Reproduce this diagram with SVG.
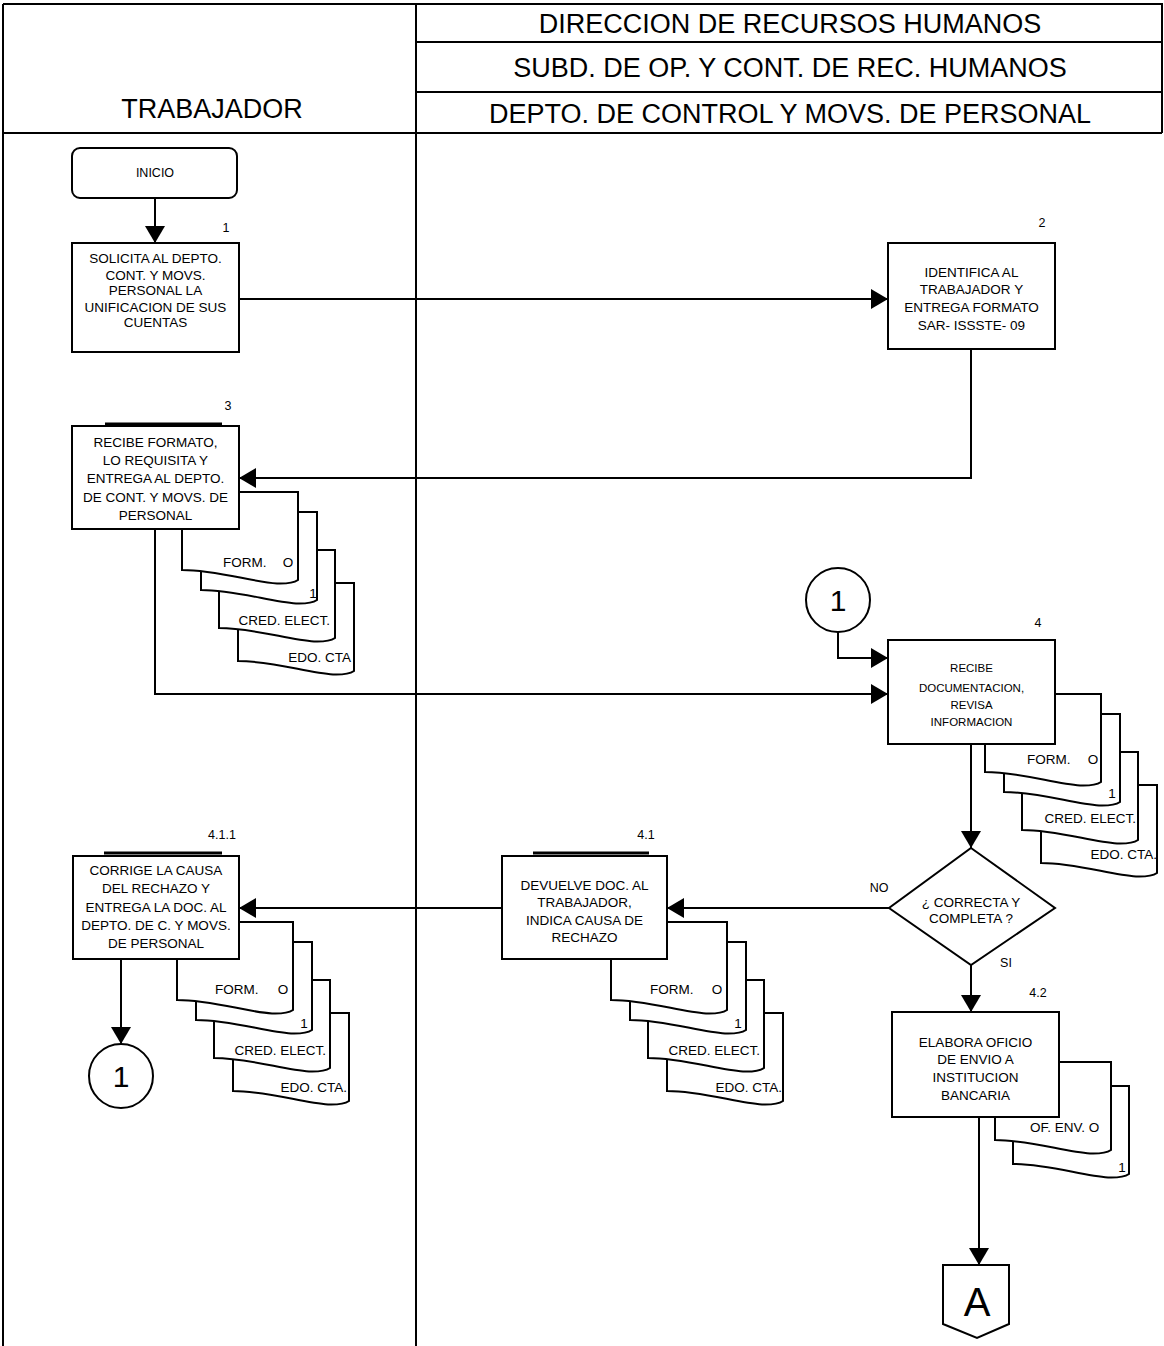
<svg xmlns="http://www.w3.org/2000/svg" xmlns:xlink="http://www.w3.org/1999/xlink" width="1164" height="1346" viewBox="0 0 1164 1346">
<style>
.box{fill:#fff;stroke:#000;stroke-width:2}
.ln{fill:none;stroke:#000;stroke-width:2}
.bar{fill:none;stroke:#000;stroke-width:3}
text{font-family:"Liberation Sans",Arial,sans-serif;fill:#000}
.t{font-size:13.5px;text-anchor:middle}
.ts{font-size:11.5px;text-anchor:middle}
.hdr{font-size:27px;text-anchor:middle}
.num{font-size:12.5px;text-anchor:middle}
.dl{font-size:13.5px}
.end{text-anchor:end}
.mid{text-anchor:middle}
.big{font-size:30px;text-anchor:middle}
</style>
<defs>
<marker id="ah" viewBox="0 0 17 20" refX="17" refY="10" markerWidth="17" markerHeight="20" markerUnits="userSpaceOnUse" orient="auto">
<path d="M0,0 L17,10 L0,20 Z" fill="#000"/>
</marker>
<path id="doc" class="box" d="M0,0 H116 V88 Q110,92 95,91.5 C70,90 35,78 0,78 Z"/>
<g id="stack4">
<use xlink:href="#doc" href="#doc" x="56" y="91"/>
<use xlink:href="#doc" href="#doc" x="37" y="58"/>
<use xlink:href="#doc" href="#doc" x="19" y="20"/>
<use xlink:href="#doc" href="#doc" x="0" y="0"/>
</g>
</defs>

<g id="header">
<path class="ln" d="M3,4 H1162 V133 M3,133 H1162 M416,42 H1162 M416,92 H1162 M3,4 V1346 M416,4 V1346"/>
<text class="hdr" x="212" y="118">TRABAJADOR</text>
<text class="hdr" x="790" y="33">DIRECCION DE RECURSOS HUMANOS</text>
<text class="hdr" x="790" y="77">SUBD. DE OP. Y CONT. DE REC. HUMANOS</text>
<text class="hdr" x="790" y="123">DEPTO. DE CONTROL Y MOVS. DE PERSONAL</text>
</g>

<g id="connectors">
<path class="ln" marker-end="url(#ah)" d="M155,198 V243"/>
<path class="ln" marker-end="url(#ah)" d="M239,299 H888"/>
<path class="ln" marker-end="url(#ah)" d="M971,349 V478 H239"/>
<path class="ln" marker-end="url(#ah)" d="M155,529 V694 H888"/>
<path class="ln" marker-end="url(#ah)" d="M838,632 V658 H888"/>
<path class="ln" marker-end="url(#ah)" d="M971,744 V848"/>
<path class="ln" marker-end="url(#ah)" d="M889,908 H667"/>
<path class="ln" marker-end="url(#ah)" d="M502,908 H239"/>
<path class="ln" marker-end="url(#ah)" d="M121,959 V1044"/>
<path class="ln" marker-end="url(#ah)" d="M971,965 V1012"/>
<path class="ln" marker-end="url(#ah)" d="M979,1117 V1265"/>
</g>

<g id="inicio">
<rect class="box" x="72" y="148" width="165" height="50" rx="8"/>
<text class="num" x="155" y="177">INICIO</text>
</g>

<g id="step1">
<rect class="box" x="72" y="243" width="167" height="109"/>
<text class="num" x="226" y="232">1</text>
<text class="t" x="155.5" y="263">SOLICITA AL DEPTO.</text>
<text class="t" x="155.5" y="280">CONT. Y MOVS.</text>
<text class="t" x="155.5" y="295">PERSONAL LA</text>
<text class="t" x="155.5" y="312">UNIFICACION DE SUS</text>
<text class="t" x="155.5" y="327">CUENTAS</text>
</g>

<g id="step2">
<rect class="box" x="888" y="243" width="167" height="106"/>
<text class="num" x="1042" y="227">2</text>
<text class="t" x="971.5" y="277">IDENTIFICA AL</text>
<text class="t" x="971.5" y="294">TRABAJADOR Y</text>
<text class="t" x="971.5" y="312">ENTREGA FORMATO</text>
<text class="t" x="971.5" y="330">SAR- ISSSTE- 09</text>
</g>

<g id="step3">
<use xlink:href="#stack4" href="#stack4" x="182" y="492"/>
<text class="dl" x="223" y="567">FORM.</text>
<text class="dl mid" x="288" y="567">O</text>
<text class="dl mid" x="313" y="598">1</text>
<text class="dl end" x="330" y="625">CRED. ELECT.</text>
<text class="dl end" x="351" y="662">EDO. CTA</text>
<rect class="box" x="72" y="426" width="167" height="103"/>
<path class="bar" d="M105,424 H222"/>
<text class="num" x="228" y="410">3</text>
<text class="t" x="155.5" y="447">RECIBE FORMATO,</text>
<text class="t" x="155.5" y="465">LO REQUISITA Y</text>
<text class="t" x="155.5" y="483">ENTREGA AL DEPTO.</text>
<text class="t" x="155.5" y="502">DE CONT. Y MOVS. DE</text>
<text class="t" x="155.5" y="520">PERSONAL</text>
</g>

<g id="conn1a">
<circle class="box" cx="838" cy="600" r="32"/>
<text class="big" x="838" y="611">1</text>
</g>

<g id="step4">
<use xlink:href="#stack4" href="#stack4" x="985" y="694"/>
<text class="dl" x="1027" y="764">FORM.</text>
<text class="dl mid" x="1093" y="764">O</text>
<text class="dl mid" x="1112" y="798">1</text>
<text class="dl end" x="1136" y="823">CRED. ELECT.</text>
<text class="dl end" x="1157" y="859">EDO. CTA.</text>
<rect class="box" x="888" y="640" width="167" height="104"/>
<text class="num" x="1038" y="627">4</text>
<text class="ts" x="971.5" y="672">RECIBE</text>
<text class="ts" x="971.5" y="692">DOCUMENTACION,</text>
<text class="ts" x="971.5" y="709">REVISA</text>
<text class="ts" x="971.5" y="726">INFORMACION</text>
</g>

<g id="decision">
<polygon class="box" points="971,848 1055,908 971,965 889,908"/>
<text class="t" x="971" y="907">¿ CORRECTA Y</text>
<text class="t" x="971" y="923">COMPLETA ?</text>
<text class="num" x="879" y="892">NO</text>
<text class="num" x="1006" y="967">SI</text>
</g>

<g id="step41">
<use xlink:href="#stack4" href="#stack4" x="611" y="922"/>
<text class="dl" x="650" y="994">FORM.</text>
<text class="dl mid" x="717" y="994">O</text>
<text class="dl mid" x="738" y="1028">1</text>
<text class="dl end" x="760" y="1055">CRED. ELECT.</text>
<text class="dl end" x="782" y="1092">EDO. CTA.</text>
<rect class="box" x="502" y="856" width="165" height="103"/>
<path class="bar" d="M533,853 H649"/>
<text class="num" x="646" y="839">4.1</text>
<text class="t" x="584.5" y="890">DEVUELVE DOC. AL</text>
<text class="t" x="584.5" y="907">TRABAJADOR,</text>
<text class="t" x="584.5" y="925">INDICA CAUSA DE</text>
<text class="t" x="584.5" y="942">RECHAZO</text>
</g>

<g id="step411">
<use xlink:href="#stack4" href="#stack4" x="177" y="922"/>
<text class="dl" x="215" y="994">FORM.</text>
<text class="dl mid" x="283" y="994">O</text>
<text class="dl mid" x="304" y="1028">1</text>
<text class="dl end" x="326" y="1055">CRED. ELECT.</text>
<text class="dl end" x="347" y="1092">EDO. CTA.</text>
<rect class="box" x="73" y="856" width="166" height="103"/>
<path class="bar" d="M104,853 H222"/>
<text class="num" x="222" y="839">4.1.1</text>
<text class="t" x="156" y="875">CORRIGE LA CAUSA</text>
<text class="t" x="156" y="893">DEL RECHAZO Y</text>
<text class="t" x="156" y="912">ENTREGA LA DOC. AL</text>
<text class="t" x="156" y="930">DEPTO. DE C. Y MOVS.</text>
<text class="t" x="156" y="948">DE PERSONAL</text>
</g>

<g id="conn1b">
<circle class="box" cx="121" cy="1076" r="32"/>
<text class="big" x="121" y="1087">1</text>
</g>

<g id="step42">
<use xlink:href="#doc" href="#doc" x="1013" y="1086"/>
<use xlink:href="#doc" href="#doc" x="995" y="1062"/>
<text class="dl" x="1030" y="1132">OF. ENV.  O</text>
<text class="dl mid" x="1122" y="1172">1</text>
<rect class="box" x="892" y="1012" width="167" height="105"/>
<text class="num" x="1038" y="997">4.2</text>
<text class="t" x="975.5" y="1047">ELABORA OFICIO</text>
<text class="t" x="975.5" y="1064">DE ENVIO A</text>
<text class="t" x="975.5" y="1082">INSTITUCION</text>
<text class="t" x="975.5" y="1100">BANCARIA</text>
</g>

<g id="offpageA">
<polygon class="box" points="943,1265 1009,1265 1009,1324 977,1338 943,1324"/>
<text x="977" y="1316" style="font-size:40px;text-anchor:middle">A</text>
</g>
</svg>
